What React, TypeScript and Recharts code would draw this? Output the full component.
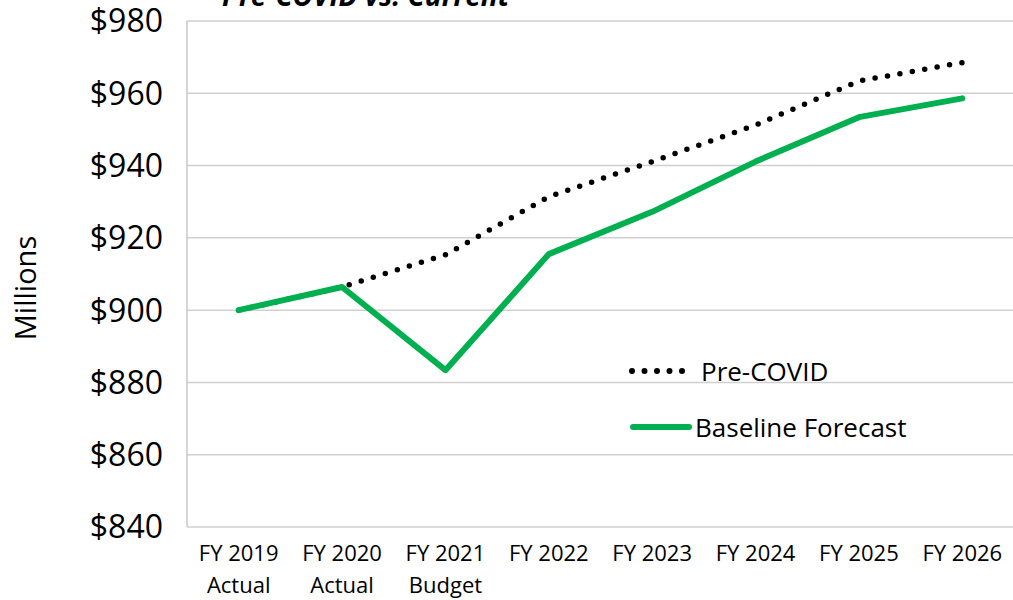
import { LineChart, Line, XAxis, YAxis, CartesianGrid } from "recharts"

const categories = ["FY 2019|Actual", "FY 2020|Actual", "FY 2021|Budget", "FY 2022", "FY 2023", "FY 2024", "FY 2025", "FY 2026"]
const preCovid = [900, 906.4, 915.3, 931.4, 941.1, 951.2, 963.4, 968.5]
const baseline = [900, 906.4, 883.4, 915.5, 927.2, 941.1, 953.4, 958.6]
const yTicks = [840, 860, 880, 900, 920, 940, 960, 980]
const seriesNames = ["Pre-COVID", "Baseline Forecast"]

const FONT = "'Open Sans', sans-serif"
const GREEN = "#00b050"

const data = categories.map((c, i) => ({ cat: c, pre: preCovid[i], base: baseline[i] }))

function CategoryTick(props: any) {
  const { x, y, payload } = props
  const lines = String(payload.value).split("|")
  return (
    <text x={x} y={y} textAnchor="middle" fontFamily={FONT} fontSize={22} fill="#000">
      {lines.map((l, i) => (
        <tspan key={i} x={x} dy={i === 0 ? 26 : 32}>
          {l}
        </tspan>
      ))}
    </text>
  )
}

function ChartLegend() {
  return (
    <div style={{ position: "absolute", left: 627, top: 354, fontFamily: FONT, fontSize: 26, color: "#000" }}>
      <div style={{ display: "flex", alignItems: "center", height: 34 }}>
        <svg width={66} height={12}>
          <line x1={5} y1={6} x2={60} y2={6} stroke="#000" strokeWidth={6} strokeDasharray="0 12.5" strokeLinecap="round" />
        </svg>
        <span style={{ marginLeft: 8 }}>{seriesNames[0]}</span>
      </div>
      <div style={{ display: "flex", alignItems: "center", height: 34, marginTop: 22 }}>
        <svg width={66} height={12}>
          <line x1={6} y1={6} x2={62} y2={6} stroke={GREEN} strokeWidth={6} strokeLinecap="round" />
        </svg>
        <span style={{ marginLeft: 2 }}>{seriesNames[1]}</span>
      </div>
    </div>
  )
}

export default function App() {
  return (
    <div style={{ position: "absolute", left: 0, top: 0, width: 1013, height: 600, background: "#fff", overflow: "hidden" }}>
      <div
        style={{
          position: "absolute",
          left: 222,
          top: -21,
          fontFamily: FONT,
          fontSize: 28,
          fontWeight: 700,
          fontStyle: "italic",
          lineHeight: "32px",
          whiteSpace: "nowrap",
        }}
      >
        Pre-COVID vs. Current
      </div>
      <div
        style={{
          position: "absolute",
          left: 24,
          top: 288,
          transform: "translate(-50%, -50%) rotate(-90deg)",
          fontFamily: FONT,
          fontSize: 29,
          whiteSpace: "nowrap",
        }}
      >
        Millions
      </div>
      <LineChart width={1014} height={600} data={data} margin={{ top: 21, right: 0, bottom: 0, left: 0 }}>
        <CartesianGrid vertical={false} stroke="#d0d0d0" strokeWidth={1.5} />
        <XAxis
          dataKey="cat"
          tick={<CategoryTick />}
          tickLine={false}
          axisLine={false}
          interval={0}
          height={73}
          padding={{ left: 51.7, right: 51.7 }}
        />
        <YAxis
          domain={[840, 980]}
          ticks={yTicks}
          tickFormatter={(v: number) => `$${v}`}
          tick={{ fontFamily: FONT, fontSize: 32, fill: "#000" }}
          tickLine={false}
          tickSize={0}
          tickMargin={24}
          axisLine={{ stroke: "#c8c8c8", strokeWidth: 1.5 }}
          width={187}
        />
        <Line
          dataKey="pre"
          stroke="#000"
          strokeWidth={5.5}
          strokeDasharray="0 12.6"
          strokeLinecap="round"
          dot={false}
          isAnimationActive={false}
        />
        <Line
          dataKey="base"
          stroke={GREEN}
          strokeWidth={6}
          strokeLinecap="round"
          strokeLinejoin="round"
          dot={false}
          isAnimationActive={false}
        />
      </LineChart>
      <ChartLegend />
    </div>
  )
}
